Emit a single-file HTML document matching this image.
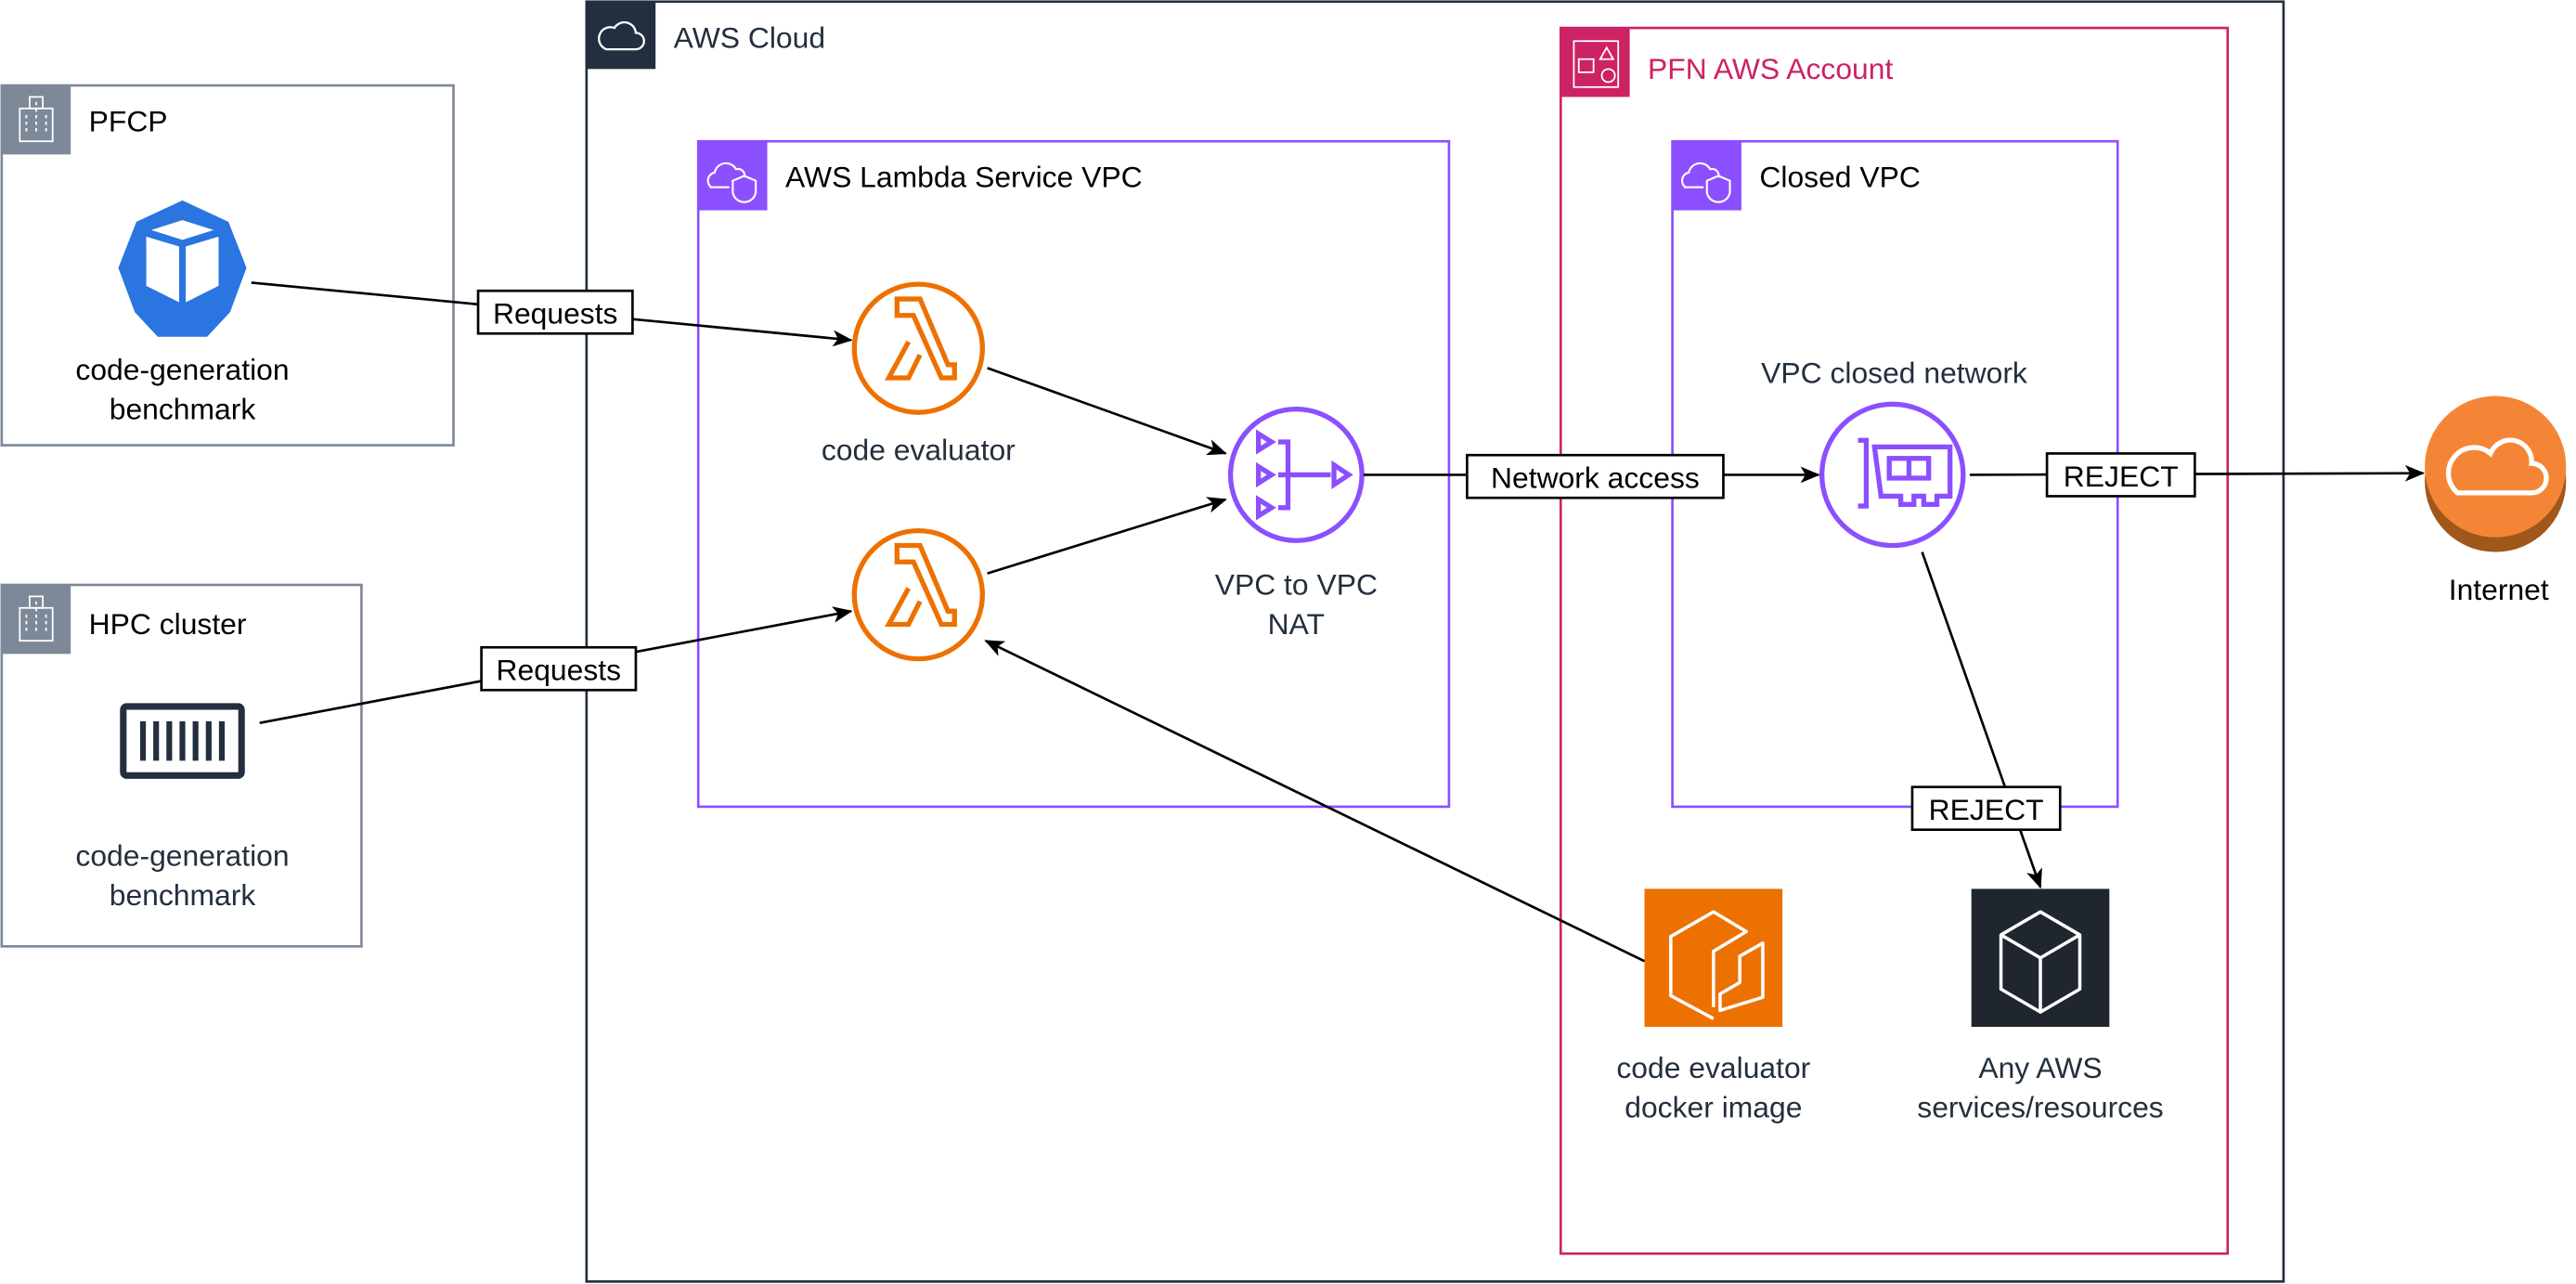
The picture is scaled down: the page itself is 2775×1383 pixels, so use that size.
<!DOCTYPE html>
<html><head><meta charset="utf-8"><style>
html,body{margin:0;padding:0;background:#fff;}
svg{display:block;}
svg, text{font-family:"Liberation Sans",Arial,sans-serif;}
</style></head><body>
<svg width="2775" height="1383" viewBox="0 0 1568 781.5" xmlns="http://www.w3.org/2000/svg" font-family="Liberation Sans, Arial, sans-serif">
<defs>
<marker id="ah" markerWidth="12" markerHeight="10" refX="11" refY="5" orient="auto" markerUnits="userSpaceOnUse">
<path d="M0,0 L12,5 L0,10 L3,5 Z" fill="#000"/>
</marker>
</defs>
<rect width="1568" height="781.5" fill="#fff"/>

<!-- PFCP box -->
<rect x="1" y="52" width="275" height="219" fill="none" stroke="#7d8998" stroke-width="1.5"/>
<rect x="1" y="52" width="42" height="42" fill="#7d8998"/>
<g fill="none" stroke="#fff" stroke-width="1"><rect x="12" y="66" width="20" height="20"/><rect x="18" y="59" width="8" height="7"/>
<path d="M16,70 v12 M22,62 v20 M28,70 v12" stroke-dasharray="2,2"/></g>
<text x="54" y="80" font-size="18" fill="#000">PFCP</text>
<polygon points="111,122 139,135 150,163 140,190 126,205 96,205 82,190 72,163 83,135" fill="#2a75e0"/>
<g fill="#fff"><polygon points="92,140 111,134 130,140 111,146"/><polygon points="89,144 109,150 109,184 89,174"/><polygon points="113,150 133,144 133,174 113,184"/></g>
<text x="111" y="231" font-size="18" fill="#000" text-anchor="middle">code-generation</text>
<text x="111" y="255" font-size="18" fill="#000" text-anchor="middle">benchmark</text>

<!-- HPC box -->
<rect x="1" y="356" width="219" height="220" fill="none" stroke="#7d8998" stroke-width="1.5"/>
<rect x="1" y="356" width="42" height="42" fill="#7d8998"/>
<g fill="none" stroke="#fff" stroke-width="1"><rect x="12" y="370" width="20" height="20"/><rect x="18" y="363" width="8" height="7"/>
<path d="M16,374 v12 M22,366 v20 M28,374 v12" stroke-dasharray="2,2"/></g>
<text x="54" y="386" font-size="18" fill="#000">HPC cluster</text>
<rect x="75" y="430" width="72" height="42" rx="2" fill="none" stroke="#232f3e" stroke-width="4"/>
<g stroke="#232f3e" stroke-width="3.5"><line x1="87" y1="439" x2="87" y2="463"/><line x1="95" y1="439" x2="95" y2="463"/><line x1="103" y1="439" x2="103" y2="463"/><line x1="111" y1="439" x2="111" y2="463"/><line x1="119" y1="439" x2="119" y2="463"/><line x1="127" y1="439" x2="127" y2="463"/><line x1="135" y1="439" x2="135" y2="463"/></g>
<text x="111" y="527" font-size="18" fill="#232f3e" text-anchor="middle">code-generation</text>
<text x="111" y="551" font-size="18" fill="#232f3e" text-anchor="middle">benchmark</text>

<!-- AWS Cloud -->
<rect x="357" y="1" width="1033" height="779" fill="none" stroke="#232f3e" stroke-width="1.5"/>
<rect x="357" y="1" width="42" height="41" fill="#232f3e"/>
<path d="M369,30 h18 a5,5 0 0 0 0,-10 a7,7 0 0 0 -13,-3 a5,5 0 0 0 -5,13 z" fill="none" stroke="#fff" stroke-width="1.3"/>
<text x="410" y="29" font-size="18" fill="#232f3e">AWS Cloud</text>

<!-- Lambda VPC -->
<rect x="425" y="86" width="457" height="405" fill="none" stroke="#8c4fff" stroke-width="1.5"/>
<rect x="425" y="86" width="42" height="42" fill="#8c4fff"/>
<path d="M432,114 h12 M433,114 a5,5 0 0 1 2,-9 a7,7 0 0 1 13,-2 a4,4 0 0 1 5,5" fill="none" stroke="#fff" stroke-width="1.2"/>
<path d="M446,110 l7,-3 l7,3 v7 a7,7 0 0 1 -7,6 a7,7 0 0 1 -7,-6 z" fill="none" stroke="#fff" stroke-width="1.2"/>
<text x="478" y="114" font-size="18" fill="#000">AWS Lambda Service VPC</text>

<!-- PFN account -->
<rect x="950" y="17" width="406" height="746" fill="none" stroke="#cd2264" stroke-width="1.5"/>
<rect x="950" y="17" width="42" height="42" fill="#cd2264"/>
<rect x="958" y="25" width="27" height="28" fill="none" stroke="#fff" stroke-width="1"/>
<rect x="961" y="36" width="9" height="8" fill="none" stroke="#fff" stroke-width="1"/>
<polygon points="978,29 982,36 974,36" fill="none" stroke="#fff" stroke-width="1"/>
<circle cx="979" cy="46" r="4" fill="none" stroke="#fff" stroke-width="1"/>
<text x="1003" y="48" font-size="18" fill="#cd2264">PFN AWS Account</text>

<!-- Closed VPC -->
<rect x="1018" y="86" width="271" height="405" fill="none" stroke="#8c4fff" stroke-width="1.5"/>
<rect x="1018" y="86" width="42" height="42" fill="#8c4fff"/>
<path d="M1025,114 h12 M1026,114 a5,5 0 0 1 2,-9 a7,7 0 0 1 13,-2 a4,4 0 0 1 5,5" fill="none" stroke="#fff" stroke-width="1.2"/>
<path d="M1039,110 l7,-3 l7,3 v7 a7,7 0 0 1 -7,6 a7,7 0 0 1 -7,-6 z" fill="none" stroke="#fff" stroke-width="1.2"/>
<text x="1071" y="114" font-size="18" fill="#000">Closed VPC</text>

<!-- Lambdas -->
<g fill="none" stroke="#ed7100" stroke-width="3">
<circle cx="559" cy="212" r="39"/>
<path d="M546,192 h10 l17,38 h8 v-8 h-4 l-17,-40 h-14 z M553,208 l-12,22 h12 l7,-14"/>
<circle cx="559" cy="362" r="39"/>
<path d="M546,342 h10 l17,38 h8 v-8 h-4 l-17,-40 h-14 z M553,358 l-12,22 h12 l7,-14"/>
</g>
<text x="559" y="280" font-size="18" fill="#232f3e" text-anchor="middle">code evaluator</text>

<!-- NAT -->
<g fill="none" stroke="#8c4fff" stroke-width="3">
<circle cx="789" cy="289" r="40"/>
<polygon points="766,264 774,269 766,274"/><polygon points="766,284 774,289 766,294"/><polygon points="766,304 774,309 766,314"/>
<path d="M778,269 h6 v40 h-6 M778,289 h32"/><polygon points="812,283 821,289 812,295"/>
</g>
<text x="789" y="362" font-size="18" fill="#232f3e" text-anchor="middle">VPC to VPC</text>
<text x="789" y="386" font-size="18" fill="#232f3e" text-anchor="middle">NAT</text>

<!-- NIC -->
<text x="1153" y="233" font-size="18" fill="#232f3e" text-anchor="middle">VPC closed network</text>
<g fill="none" stroke="#8c4fff" stroke-width="3">
<ellipse cx="1152" cy="289" rx="43" ry="43"/>
<path d="M1131,268 h5 v40 h-5"/>
<path d="M1141,272 h46 v30 h-8 v5 h-8 v-5 h-6 v5 h-8 v-5 h-12 z"/>
<rect x="1150" y="279" width="24" height="12"/><line x1="1162" y1="279" x2="1162" y2="291"/>
</g>

<!-- Internet -->
<circle cx="1519" cy="293" r="43" fill="#a1571a"/>
<circle cx="1519" cy="284" r="43" fill="#f58536"/>
<path d="M1496,300 h45 a9,9 0 0 0 0,-18 a13,13 0 0 0 -25,-6 a9,9 0 0 0 -20,24 z" fill="none" stroke="#fff" stroke-width="3"/>
<text x="1521" y="365" font-size="18" fill="#000" text-anchor="middle">Internet</text>

<!-- ECR -->
<rect x="1001" y="541" width="84" height="84" fill="#ed7100"/>
<g fill="none" stroke="#fff" stroke-width="2" stroke-linejoin="round">
<path d="M1043,613 v-34 l20,-12 l-20,-12 l-26,15 v36 l26,14"/>
<path d="M1047,615 v-10 l12,-7 v-16 l14,-8 v33 z"/>
</g>
<text x="1043" y="656" font-size="18" fill="#232f3e" text-anchor="middle">code evaluator</text>
<text x="1043" y="680" font-size="18" fill="#232f3e" text-anchor="middle">docker image</text>

<!-- Any AWS -->
<rect x="1200" y="541" width="84" height="84" fill="#1f262e"/>
<g fill="none" stroke="#fff" stroke-width="2" stroke-linejoin="round">
<path d="M1242,555 l24,14 v33 l-24,14 l-24,-14 v-33 z"/>
<path d="M1218,569 l24,14 l24,-14 M1242,583 v33"/>
</g>
<text x="1242" y="656" font-size="18" fill="#232f3e" text-anchor="middle">Any AWS</text>
<text x="1242" y="680" font-size="18" fill="#232f3e" text-anchor="middle">services/resources</text>

<!-- Edges -->
<g stroke="#000" stroke-width="1.5" fill="none">
<line x1="153" y1="172" x2="518" y2="207" marker-end="url(#ah)"/>
<line x1="158" y1="440" x2="518" y2="372" marker-end="url(#ah)"/>
<line x1="601" y1="224" x2="746" y2="276" marker-end="url(#ah)"/>
<line x1="601" y1="349" x2="746" y2="304" marker-end="url(#ah)"/>
<line x1="830" y1="289" x2="1107" y2="289" marker-end="url(#ah)"/>
<line x1="1199" y1="289" x2="1475" y2="288" marker-end="url(#ah)"/>
<line x1="1170" y1="336" x2="1242" y2="540" marker-end="url(#ah)"/>
<line x1="1001" y1="585" x2="600" y2="390" marker-end="url(#ah)"/>
</g>

<!-- Edge labels -->
<g font-size="18" fill="#000" text-anchor="middle">
<rect x="291" y="177" width="94" height="26" fill="#fff" stroke="#000" stroke-width="1.5"/>
<text x="338" y="197">Requests</text>
<rect x="293" y="394" width="94" height="26" fill="#fff" stroke="#000" stroke-width="1.5"/>
<text x="340" y="414">Requests</text>
<rect x="893" y="277" width="156" height="26" fill="#fff" stroke="#000" stroke-width="1.5"/>
<text x="971" y="297">Network access</text>
<rect x="1246" y="276" width="90" height="26" fill="#fff" stroke="#000" stroke-width="1.5"/>
<text x="1291" y="296">REJECT</text>
<rect x="1164" y="479" width="90" height="26" fill="#fff" stroke="#000" stroke-width="1.5"/>
<text x="1209" y="499">REJECT</text>
</g>
</svg>
</body></html>
